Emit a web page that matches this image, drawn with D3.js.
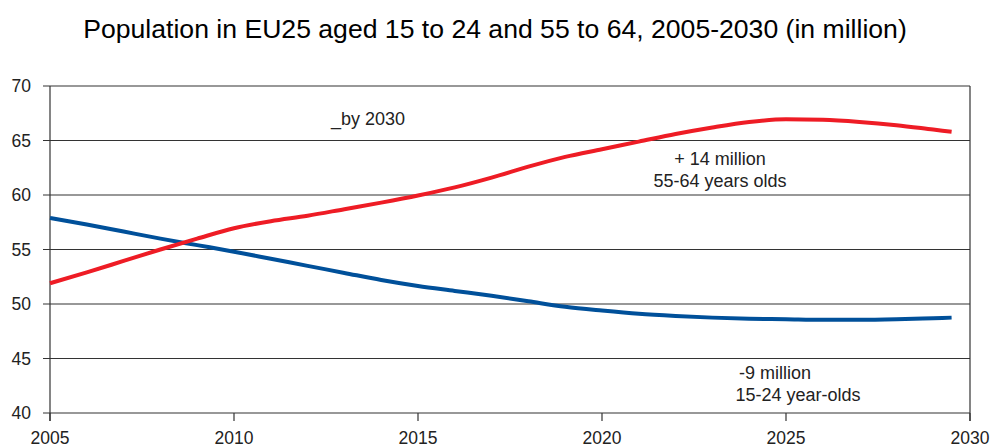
<!DOCTYPE html>
<html><head><meta charset="utf-8">
<script src="https://cdn.jsdelivr.net/npm/d3@7"></script>
<style>body{margin:0;background:#fff}svg{display:block;font-family:"Liberation Sans",Arial,sans-serif}</style>
</head><body>
<svg id="c" width="990" height="448"></svg>
<script>
const years = [2005,2006,2007,2008,2009,2010,2011,2012,2013,2014,2015,2016,2017,2018,2019,2020,2021,2022,2023,2024,2025,2026,2027,2028,2029,2029.5];
const aged55to64 = [51.9,52.9,53.95,55.0,56.0,56.95,57.6,58.1,58.7,59.3,59.95,60.7,61.6,62.6,63.5,64.2,64.9,65.6,66.2,66.7,66.95,66.9,66.7,66.4,66.0,65.8];
const aged15to24 = [57.9,57.3,56.65,56.0,55.4,54.8,54.15,53.5,52.85,52.2,51.65,51.2,50.75,50.25,49.75,49.4,49.1,48.9,48.75,48.65,48.6,48.55,48.55,48.6,48.7,48.75];
const xTicks = [2005,2010,2015,2020,2025,2030];
const yTicks = [40,45,50,55,60,65,70];
const title = "Population in EU25 aged 15 to 24 and 55 to 64, 2005-2030 (in million)";

const svg = d3.select("#c");
const x = d3.scaleLinear().domain([2005,2030]).range([50,970]);
const y = d3.scaleLinear().domain([40,70]).range([413,86]);

svg.append("text").attr("x",495).attr("y",38).attr("text-anchor","middle")
  .attr("font-size",26.6).attr("fill","#000").text(title);

svg.append("g").selectAll("line").data(yTicks).join("line")
  .attr("x1",43).attr("x2",970).attr("y1",d=>y(d)).attr("y2",d=>y(d))
  .attr("stroke","#333").attr("stroke-width",1.2);
svg.append("g").selectAll("text").data(yTicks).join("text")
  .attr("x",31).attr("y",d=>y(d)+6).attr("text-anchor","end")
  .attr("font-size",17.5).attr("fill","#222").text(d=>d);
svg.append("g").selectAll("line").data(xTicks).join("line")
  .attr("x1",d=>x(d)).attr("x2",d=>x(d)).attr("y1",413).attr("y2",421)
  .attr("stroke","#333").attr("stroke-width",1.2);
svg.append("g").selectAll("text").data(xTicks).join("text")
  .attr("x",d=>x(d)).attr("y",444).attr("text-anchor","middle")
  .attr("font-size",17.5).attr("fill","#222").text(d=>d);
[2005,2030].forEach(v=>svg.append("line").attr("x1",x(v)).attr("x2",x(v)).attr("y1",86).attr("y2",421)
  .attr("stroke","#333").attr("stroke-width",1.2));

const line = d3.line().x((d,i)=>x(years[i])).y(d=>y(d)).curve(d3.curveMonotoneX);
svg.append("path").datum(aged15to24).attr("d",line).attr("fill","none")
  .attr("stroke","#00509A").attr("stroke-width",4);
svg.append("path").datum(aged55to64).attr("d",line).attr("fill","none")
  .attr("stroke","#EE1C25").attr("stroke-width",4);

const notes = [
  {t:"_by 2030", x:331, y:125, a:"start"},
  {t:"+ 14 million", x:720, y:165, a:"middle"},
  {t:"55-64 years olds", x:720, y:187, a:"middle"},
  {t:"-9 million", x:775, y:379, a:"middle"},
  {t:"15-24 year-olds", x:798, y:401, a:"middle"}
];
svg.append("g").selectAll("text").data(notes).join("text")
  .attr("x",d=>d.x).attr("y",d=>d.y).attr("text-anchor",d=>d.a)
  .attr("font-size",18).attr("fill","#222").text(d=>d.t);
</script>
</body></html>
